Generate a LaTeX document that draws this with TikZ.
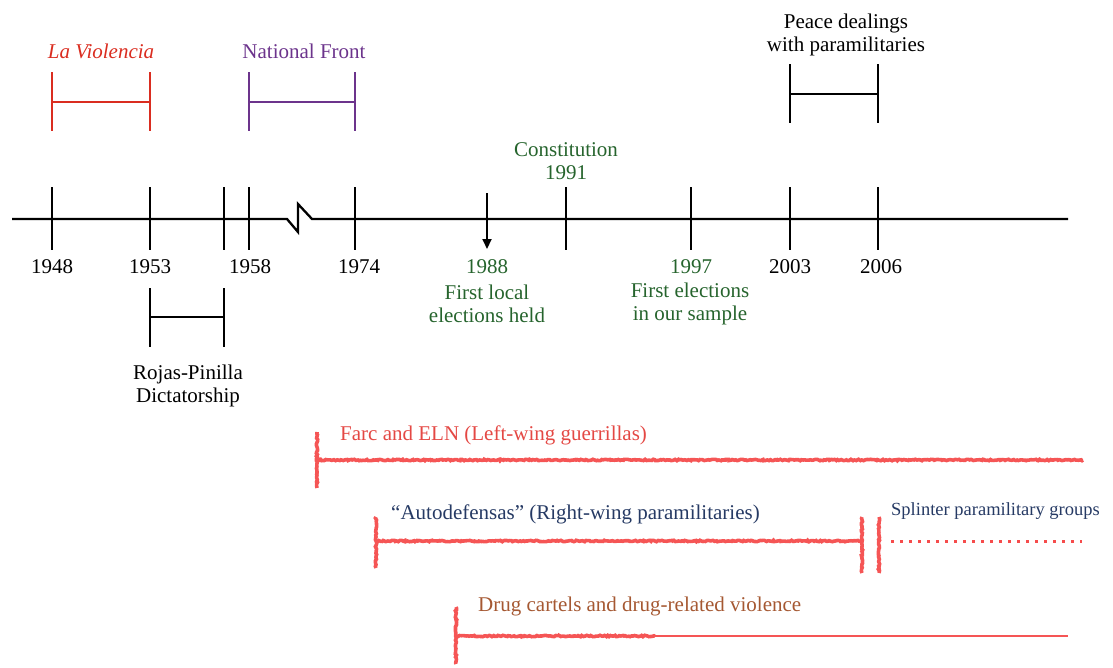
\documentclass[tikz,border=0pt]{standalone}
\usepackage{fontspec}
\setmainfont{Liberation Serif}
\usetikzlibrary{arrows.meta,decorations.pathmorphing}
\definecolor{vred}{RGB}{218,45,32}
\definecolor{nfpurple}{RGB}{108,52,140}
\definecolor{cgreen}{RGB}{38,100,45}
\definecolor{sketchred}{RGB}{245,85,85}
\definecolor{farcred}{RGB}{228,72,68}
\definecolor{audblue}{RGB}{38,58,100}
\definecolor{drugbrown}{RGB}{165,88,50}
\tikzset{
  axis/.style={line width=2.3pt,black},
  tick/.style={line width=2.3pt,black},
  brack/.style={line width=2.4pt},
  lbl/.style={font=\fontsize{21}{23}\selectfont,inner sep=0pt,align=center},
  small/.style={font=\fontsize{18.5}{21}\selectfont,inner sep=0pt},
  sketch/.style={sketchred,line width=3.6pt,decorate,decoration={random steps,segment length=1.5pt,amplitude=0.7pt}},
  plainred/.style={sketchred,line width=2pt},
}
\begin{document}
\begin{tikzpicture}[x=1pt,y=-1pt]
\useasboundingbox (0,0) rectangle (1113,667);
% main axis with break
\coordinate (axL) at (12,219);
\coordinate (brA) at (287,219);
\coordinate (brB) at (298,232);
\coordinate (brC) at (298,204);
\coordinate (brD) at (312,219);
\coordinate (axR) at (1068,219);
\draw[axis,line join=miter] (axL) -- (brA) -- (brB) -- (brC) -- (brD) -- (axR);
% ticks
\foreach \x in {52,150,224,249,355,566,691,790,878}{
  \draw[tick] (\x,187) -- (\x,250);
}
% arrow 1988
\coordinate (arT) at (487,193);
\coordinate (arB) at (487,249);
\draw[line width=2pt,-{Triangle[length=10pt,width=9pt]}] (arT) -- (arB);
% year labels
\node[lbl] (y1948) at (52,267) {1948};
\node[lbl] (y1953) at (150,267) {1953};
\node[lbl] (y1958) at (250,267) {1958};
\node[lbl] (y1974) at (359,267) {1974};
\node[lbl,text=cgreen] (y1988) at (487,267) {1988};
\node[lbl,text=cgreen] (y1997) at (691,267) {1997};
\node[lbl] (y2003) at (790,267) {2003};
\node[lbl] (y2006) at (881,267) {2006};
\node[lbl,text=cgreen] (first1) at (487,304) {First local\\elections held};
\node[lbl,text=cgreen] (first2) at (690,304) {First elections\\in our sample};
\node[lbl,text=cgreen] (const) at (566,161) {Constitution\\1991};
% La Violencia
\node[lbl,text=vred,font=\fontsize{21}{23}\selectfont\itshape] (lav) at (101,51) {La Violencia};
\draw[brack,vred] (52,72) -- (52,131) (150,72) -- (150,131) (52,102) -- (150,102);
% National Front
\node[lbl,text=nfpurple] (nf) at (304,51) {National Front};
\draw[brack,nfpurple] (249,72) -- (249,131) (355,72) -- (355,131) (249,102) -- (355,102);
% Peace dealings
\node[lbl] (peace) at (846,34.5) {Peace dealings\\with paramilitaries};
\draw[brack,black] (790,64) -- (790,123) (878,64) -- (878,123) (790,94) -- (878,94);
% Rojas-Pinilla
\draw[brack,black] (150,288) -- (150,347) (224,288) -- (224,347) (150,317) -- (224,317);
\node[lbl] (rojas) at (188,386) {Rojas-Pinilla\\Dictatorship};
% Farc
\node[lbl,text=farcred,anchor=west] (farc) at (340,435) {Farc and ELN (Left-wing guerrillas)};
\draw[sketch] (317,432) -- (317,488);
\draw[sketch] (317,460) -- (1083,460);
% Autodefensas
\node[lbl,text=audblue,anchor=west] (auto) at (391,514) {“Autodefensas” (Right-wing paramilitaries)};
\draw[sketch] (376,517) -- (376,568);
\draw[sketch] (376,541) -- (862,541);
\draw[sketch] (862,517) -- (862,573);
\draw[sketch] (879,517) -- (879,573);
\draw[sketchred!90!red,line width=3pt,dash pattern=on 2.6pt off 6.4pt] (891,541) -- (1082,541);
\node[small,text=audblue,anchor=west] (splinter) at (891,511) {Splinter paramilitary groups};
% Drug cartels
\node[lbl,text=drugbrown,anchor=west] (drug) at (478,606) {Drug cartels and drug-related violence};
\draw[sketch] (456,607) -- (456,664);
\draw[sketch] (456,636) -- (655,636);
\draw[plainred] (655,636) -- (1068,636);
\end{tikzpicture}
\end{document}
